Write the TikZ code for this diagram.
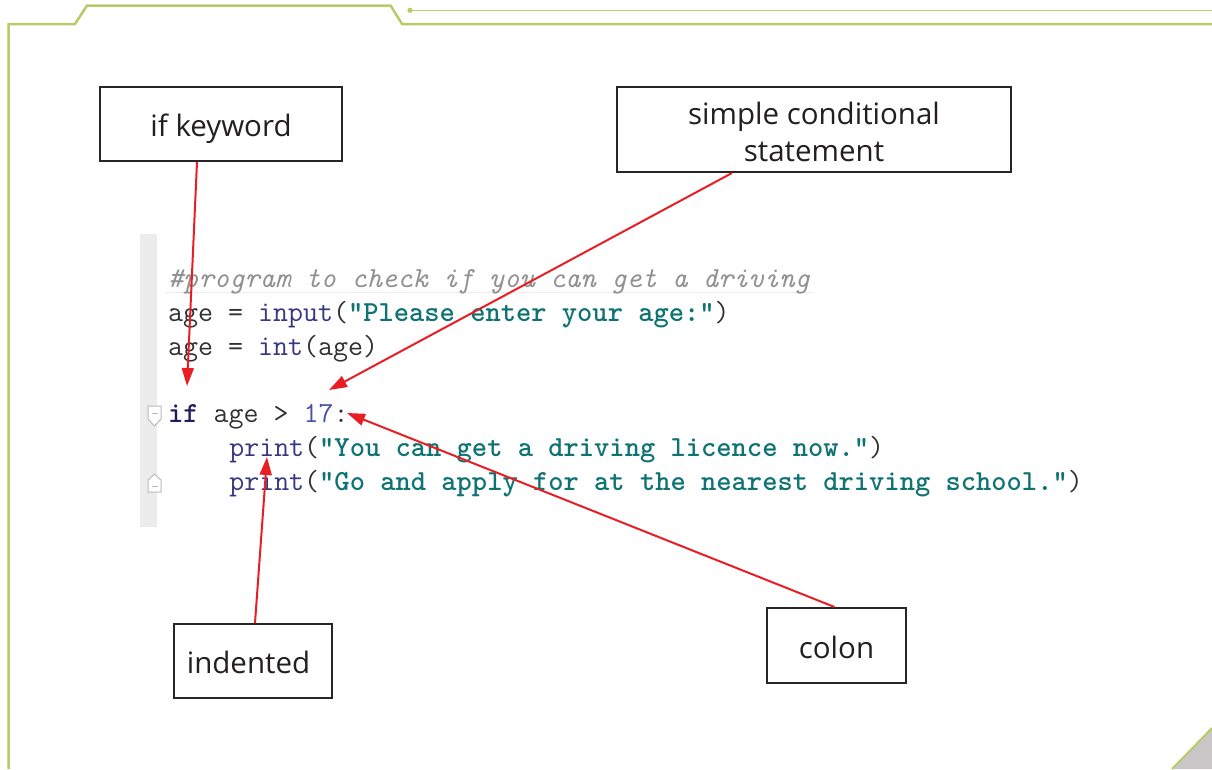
\documentclass[tikz,border=0pt]{standalone}
\usepackage{fontspec}
\usetikzlibrary{arrows.meta,calc}
\newfontfamily\lblfont{Open Sans}

\definecolor{framegreen}{RGB}{183,204,104}
\definecolor{pointer}{RGB}{232,30,36}
\definecolor{codeplain}{RGB}{50,50,50}
\definecolor{codefn}{RGB}{55,55,130}
\definecolor{codestring}{RGB}{15,115,115}
\definecolor{codekey}{RGB}{30,30,95}
\definecolor{codenum}{RGB}{70,80,165}
\definecolor{codecomment}{RGB}{145,145,145}
\definecolor{guttergray}{RGB}{236,236,236}
\definecolor{foldgray}{RGB}{185,185,185}
\definecolor{cornergray}{RGB}{200,198,198}
\definecolor{boxtext}{RGB}{35,31,32}

% syntax colouring helpers
\newcommand\cfn[1]{\textcolor{codefn}{#1}}
\newcommand\cstrg[1]{\textcolor{codestring}{\bfseries #1}}
\newcommand\ckey[1]{\textcolor{codekey}{\bfseries #1}}
\newcommand\cnum[1]{\textcolor{codenum}{#1}}

\tikzset{
  codeline/.style={anchor=base west, inner sep=0pt, text=codeplain,
    font=\ttfamily\fontsize{29.1}{34}\selectfont},
  labelbox/.style={draw=black!85, line width=2pt, inner sep=0pt, align=center,
    text=boxtext, font=\lblfont\fontsize{29.5}{37.5}\selectfont,
    text depth=0pt, text height=25pt},
  pointer/.style={draw=pointer, line width=2pt,
    -{Triangle[length=18pt,width=12pt]}},
  foldmark/.style={draw=foldgray, line width=1pt, fill=white},
}

\begin{document}
\begin{tikzpicture}[x=1pt,y=-1pt]
\useasboundingbox (0,0) rectangle (1212,769);

% page frame
\draw[framegreen, line width=2.5pt, line join=miter]
  (8.5,769) -- (8.5,24) -- (75,24) -- (87,5.5) -- (390.5,5.5) -- (402,24) -- (1212,24);
\fill[framegreen] (410,10.3) circle (2.6pt);
\draw[framegreen, line width=1.5pt] (410,10.3) -- (1212,10.3);
\fill[cornergray] (1172,769) -- (1212,728) -- (1212,769) -- cycle;
\draw[framegreen, line width=2pt] (1172,769) -- (1212,728);

% editor gutter and fold markers
\fill[guttergray] (140,234) rectangle (157,527);
\draw[foldmark] (148,406) -- (161,406) -- (161,419) -- (154.5,426) -- (148,419) -- cycle;
\draw[foldgray, line width=1pt] (151.5,413) -- (157.5,413);
\draw[foldmark] (154.5,474) -- (161,480) -- (161,492) -- (148,492) -- (148,480) -- cycle;
\draw[foldgray, line width=1pt] (151.5,486) -- (157.5,486);
\draw[black!8, line width=1pt] (165,292) -- (812,292);

% source code
\node[codeline, text=codecomment] (c1) at (168,287)
  {\itshape \#program to check if you can get a driving};
\node[codeline] (c2) at (168,321)
  {age = \cfn{input}(\cstrg{"Please enter your age:"})};
\node[codeline] (c3) at (168,355) {age = \cfn{int}(age)};
\node[codeline] (c4) at (168,422) {\ckey{if} age > \cnum{17}:};
\node[codeline] (c5) at (229.1,456)
  {\cfn{print}(\cstrg{"You can get a driving licence now."})};
\node[codeline] (c6) at (229.1,490)
  {\cfn{print}(\cstrg{"Go and apply for at the nearest driving school."})};

% callout boxes
\node[labelbox, minimum width=242pt, minimum height=74pt] (ifbox) at (221,124) {if keyword};
\node[labelbox, minimum width=394pt, minimum height=85pt, text height=64pt] (condbox) at (814,129.5)
  {simple conditional\\statement};
\node[labelbox, minimum width=158pt, minimum height=74pt] (indbox) at (253,661)
  {\mbox{indented\kern9pt}};
\node[labelbox, minimum width=139pt, minimum height=75pt] (colonbox) at (836.5,645.5) {colon};

% arrow tips
\coordinate (ifTip) at (187,386);
\coordinate (condTip) at (329,390);
\coordinate (indTip) at (267,457);
\coordinate (colonTip) at (347,413);

\draw[pointer] ([xshift=-24pt]ifbox.south) -- (ifTip);
\draw[pointer] ([xshift=-82pt]condbox.south) -- (condTip);
\draw[pointer] ([xshift=2pt]indbox.north) -- (indTip);
\draw[pointer] ([xshift=-2pt]colonbox.north) -- (colonTip);
\end{tikzpicture}
\end{document}
